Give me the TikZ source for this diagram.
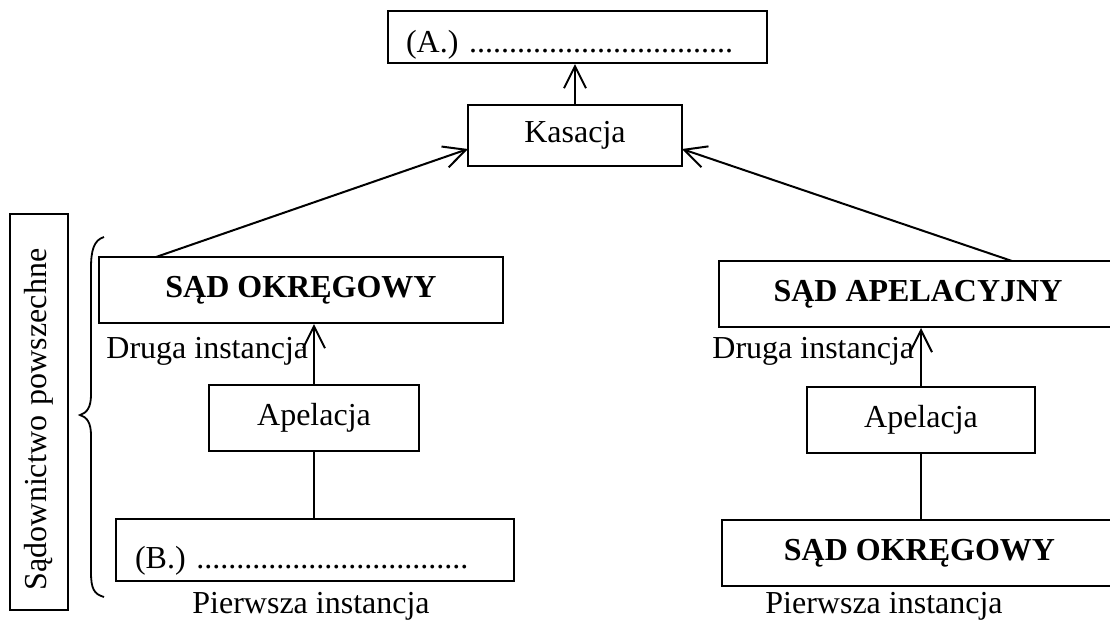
\documentclass[tikz,border=0pt]{standalone}
\usepackage{fontspec}
\setmainfont{Liberation Serif}
\usetikzlibrary{arrows.meta,calc}
\begin{document}
\begin{tikzpicture}[x=0.5pt,y=-0.5pt,
  box/.style={draw,line width=1pt,inner sep=0pt,font=\fontsize{16}{19}\selectfont},
  boldbox/.style={box,font=\fontsize{16}{19}\selectfont\bfseries},
  conn/.style={line width=1pt},
  arr/.style={conn,-{Straight Barb[length=11pt,width=11pt]}},
  lbl/.style={inner sep=0pt,font=\fontsize{16}{19}\selectfont},
]
\useasboundingbox (0,0) rectangle (1110,623);

% top
\node[box,minimum width=189.5pt,minimum height=26pt,text width=171.5pt,align=left,text height=15pt,text depth=0pt] (A) at (577.5,37) {(A.) .................................};
\node[box,minimum width=107pt,minimum height=30.5pt] (kas) at (575,135.5) {Kasacja};

% left column
\node[box,rotate=90,minimum width=198pt,minimum height=29pt,text width=178pt,align=left] (sad) at (39,412) {Sądownictwo powszechne};
\node[boldbox,minimum width=202pt,minimum height=33pt] (sadL) at (301,290) {SĄD OKRĘGOWY};
\node[box,minimum width=105pt,minimum height=33pt] (apL) at (314,418) {Apelacja};
\node[box,minimum width=199pt,minimum height=31pt,text width=180pt,align=left,text height=18pt,text depth=0pt] (B) at (315,550) {(B.) ..................................};
\node[lbl,anchor=base west] (drL) at (106,358) {Druga instancja};
\node[lbl,anchor=base west] (piL) at (192,613) {Pierwsza instancja};

% right column
\node[boldbox,minimum width=199pt,minimum height=33pt] (sadA) at (918,294) {SĄD APELACYJNY};
\node[box,minimum width=114pt,minimum height=33pt] (apR) at (921,420) {Apelacja};
\node[boldbox,minimum width=197.5pt,minimum height=33pt] (sadR) at (919.5,553) {SĄD OKRĘGOWY};
\node[lbl,anchor=base west] (drR) at (712,358) {Druga instancja};
\node[lbl,anchor=base west] (piR) at (765,613) {Pierwsza instancja};

% brace
\draw[line width=0.9pt] (104,237) .. controls (94,240) and (91,250) .. (91,268)
  -- (91,395) .. controls (91,407) and (87,413) .. (80,415)
  .. controls (87,417) and (91,423) .. (91,435)
  -- (91,572) .. controls (91,589) and (94,594) .. (104,597);

% connectors
\draw[arr] (kas.north) -- (kas.north |- A.south);
\coordinate (sL) at (156,257);
\coordinate (kL) at (468,149);
\draw[arr] (sL) -- (kL);
\coordinate (sR) at (1012,261);
\coordinate (kR) at (682,149);
\draw[arr] (sR) -- (kR);
\draw[arr] (apL.north) -- (apL.north |- sadL.south);
\draw[conn] (apL.south) -- (apL.south |- B.north);
\draw[arr] (apR.north) -- (apR.north |- sadA.south);
\draw[conn] (apR.south) -- (apR.south |- sadR.north);
\end{tikzpicture}
\end{document}
